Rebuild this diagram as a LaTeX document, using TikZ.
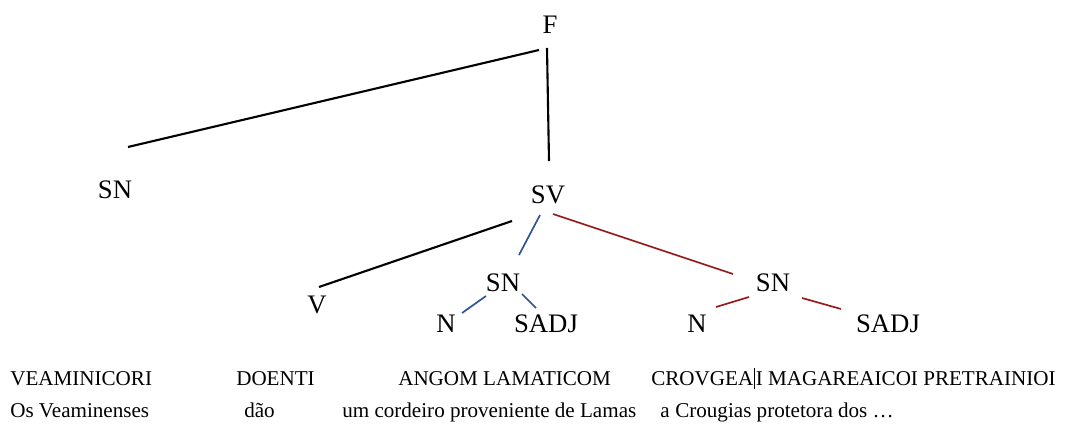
\documentclass[tikz,border=0pt]{standalone}
\usepackage{fontspec}
\setmainfont{Liberation Serif}
\definecolor{edgeblue}{RGB}{46,84,150}
\definecolor{edgered}{RGB}{150,28,28}
\begin{document}
\begin{tikzpicture}[x=0.025cm, y=-0.025cm,
      cat/.style={inner sep=0pt, font=\fontsize{19}{22}\selectfont},
      word/.style={inner sep=0pt, anchor=base west,
        font=\fontsize{15}{18}\selectfont},
      edge/.style={draw, line width=1.5pt, black},
      bedge/.style={draw, line width=1.2pt, edgeblue},
      redge/.style={draw, line width=1.2pt, edgered}
    ]
    \useasboundingbox (0,0) rectangle (1073,425);
    % === Tree: categories ===
    \node[cat] (f) at (550, 25) {F};
    \node[cat] (sn) at (115, 190) {SN};
    \node[cat] (sv) at (548, 195) {SV};
    \node[cat] (v) at (317, 305) {V};
    \node[cat] (snA) at (503, 283) {SN};
    \node[cat] (nA) at (446, 324) {N};
    \node[cat] (sadjA) at (546, 324) {SADJ};
    \node[cat] (snB) at (773, 283) {SN};
    \node[cat] (nB) at (697, 324) {N};
    \node[cat] (sadjB) at (888, 324) {SADJ};
    % === Branches ===
    \draw[edge] ([shift={(-11,25)}]f.center) -- ([shift={(13,-43)}]sn.center);
    \draw[edge] ([shift={(-3,23)}]f.center) -- ([shift={(1,-34)}]sv.center);
    \draw[edge] ([shift={(-36,26)}]sv.center) -- ([shift={(2,-18)}]v.center);
    \draw[bedge] ([shift={(-8,20)}]sv.center) -- ([shift={(16,-28)}]snA.center);
    \draw[bedge] ([shift={(-17,13)}]snA.center) -- ([shift={(16,-11)}]nA.center);
    \draw[bedge] ([shift={(19,11)}]snA.center) -- ([shift={(-10,-16)}]sadjA.center);
    \draw[redge] ([shift={(5,19)}]sv.center) -- ([shift={(-40,-9)}]snB.center);
    \draw[redge] ([shift={(-24,14)}]snB.center) -- ([shift={(19,-17)}]nB.center);
    \draw[redge] ([shift={(29,15)}]snB.center) -- ([shift={(-47,-15)}]sadjB.center);
    % === Row 1: glosses ===
    \node[word] (glA) at (10, 386) {VEAMINICORI};
    \node[word] (glB) at (236, 386) {DOENTI};
    \node[word] (glC) at (398, 386) {ANGOM LAMATICOM};
    \node[word] (glD) at (651, 386)
    {CROVGEA\kern0.6pt\rule[-2pt]{0.6pt}{15pt}\kern0.6pt I MAGAREAICOI PRETRAINIOI};
    % === Row 2: translation ===
    \node[word] (trA) at (10, 418) {Os Veaminenses};
    \node[word] (trB) at (244, 418) {dão};
    \node[word] (trC) at (342, 418) {um cordeiro proveniente de Lamas};
    \node[word] (trD) at (660, 418) {a};
    \node[word] (trE) at (675, 418) {Crougias protetora dos …};
  \end{tikzpicture}
\end{document}
